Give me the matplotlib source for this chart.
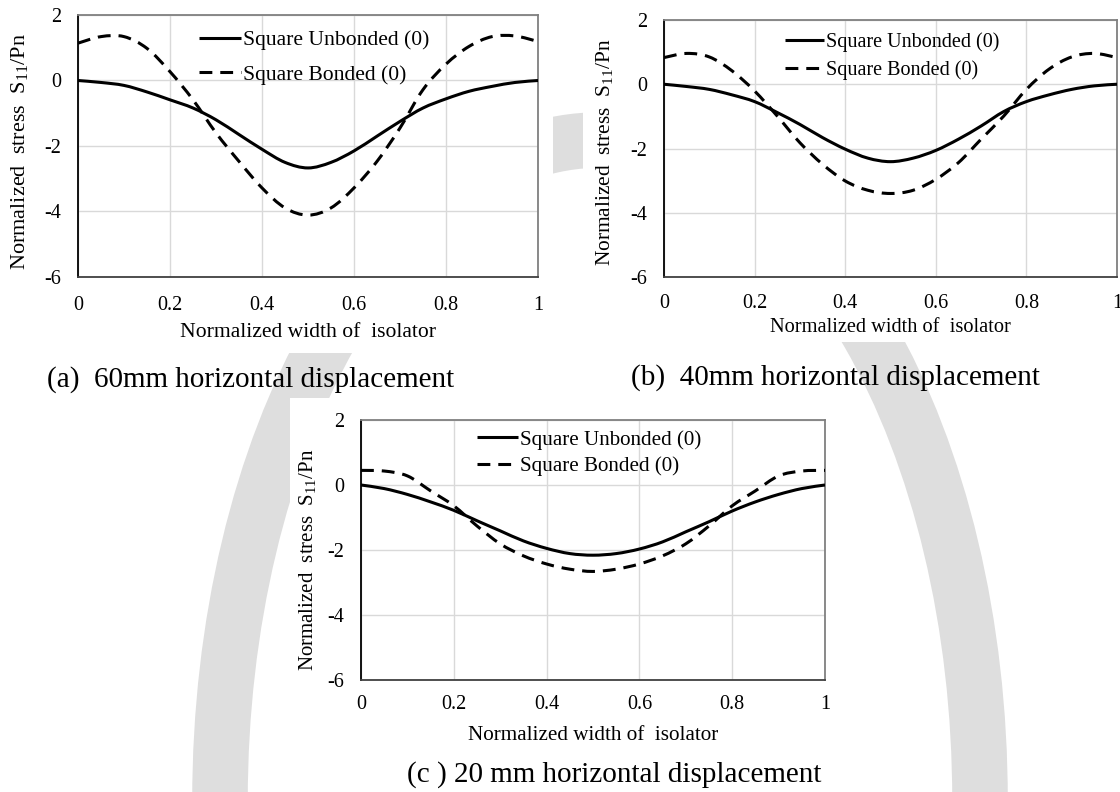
import numpy as np
import matplotlib
matplotlib.use("Agg")
from matplotlib import pyplot as plt
from matplotlib.patches import Rectangle, Ellipse, PathPatch
from matplotlib.path import Path
from matplotlib.lines import Line2D

# --- values (normalized width vs S11/Pn) ---
x_pts = [0, 0.05, 0.1, 0.15, 0.2, 0.25, 0.3, 0.35, 0.4, 0.45, 0.5,
         0.55, 0.6, 0.65, 0.7, 0.75, 0.8, 0.85, 0.9, 0.95, 1.0]

# (a) 60 mm
unb_a = [0.0, -0.06, -0.15, -0.35, -0.59, -0.84, -1.2, -1.65, -2.1, -2.5, -2.67,
         -2.5, -2.15, -1.7, -1.25, -0.84, -0.56, -0.33, -0.18, -0.06, 0.0]
bon_a = [1.14, 1.34, 1.34, 0.98, 0.27, -0.59, -1.6, -2.47, -3.28, -3.89, -4.11,
         -3.89, -3.28, -2.47, -1.45, -0.28, 0.5, 1.04, 1.34, 1.36, 1.19]
# (b) 40 mm
unb_b = [0.0, -0.07, -0.16, -0.33, -0.54, -0.88, -1.25, -1.66, -2.02, -2.3, -2.41,
         -2.3, -2.06, -1.71, -1.3, -0.85, -0.54, -0.33, -0.16, -0.05, 0.0]
bon_b = [0.83, 0.96, 0.85, 0.42, -0.21, -0.99, -1.82, -2.49, -3.01, -3.3, -3.4,
         -3.3, -2.96, -2.44, -1.71, -0.99, -0.16, 0.47, 0.85, 0.96, 0.83]
# (c) 20 mm
unb_c = [0.0, -0.11, -0.29, -0.52, -0.78, -1.1, -1.41, -1.72, -1.95, -2.11, -2.16,
         -2.11, -1.97, -1.75, -1.44, -1.13, -0.8, -0.52, -0.29, -0.11, 0.0]
bon_c = [0.45, 0.43, 0.28, -0.18, -0.64, -1.26, -1.81, -2.18, -2.43, -2.59, -2.66,
         -2.59, -2.43, -2.18, -1.81, -1.26, -0.64, -0.18, 0.28, 0.43, 0.45]

x_ticks = [0, 0.2, 0.4, 0.6, 0.8, 1]
x_ticklabels = ["0", "0.2", "0.4", "0.6", "0.8", "1"]
y_ticks = [-6, -4, -2, 0, 2]

captions = ["(a)  60mm horizontal displacement",
            "(b)  40mm horizontal displacement",
            "(c ) 20 mm horizontal displacement"]
legend_labels = ["Square Unbonded (0)", "Square Bonded (0)"]
xlabel = "Normalized width of  isolator"
ylabel = r"Normalized  stress  S$_{11}$/Pn"

plt.rcParams['font.family'] = ['Liberation Serif', 'DejaVu Serif']
plt.rcParams['mathtext.fontset'] = 'custom'
plt.rcParams['mathtext.rm'] = 'Liberation Serif'
plt.rcParams['axes.unicode_minus'] = False

W, H = 1120, 792
fig = plt.figure(figsize=(W / 100, H / 100), dpi=100)

LW = 2.2
DASH = (4.2, 2.6)


def px_axes(l, t, r, b):
    return fig.add_axes([l / W, 1 - b / H, (r - l) / W, (b - t) / H])


def ftext(x, y, s, **kw):
    fig.text(x / W, 1 - y / H, s, ha="center", va="center", **kw)


def smooth_line(ax, x, y, **kw):
    # excel-style smoothed line: catmull-rom segments drawn as cubic beziers
    p = np.column_stack([x, y])
    n = len(p)
    verts = [p[0]]
    codes = [Path.MOVETO]
    for i in range(n - 1):
        p0, p1 = p[max(i - 1, 0)], p[i]
        p2, p3 = p[i + 1], p[min(i + 2, n - 1)]
        verts += [p1 + (p2 - p0) / 6, p2 - (p3 - p1) / 6, p2]
        codes += [Path.CURVE4] * 3
    ax.add_patch(PathPatch(Path(verts, codes), fill=False, capstyle="butt",
                           joinstyle="round", zorder=3, **kw))


# background: faint watermark ring, white panel boxes
bg = fig.add_axes([0, 0, 1, 1], zorder=-10)
bg.set_xlim(0, W)
bg.set_ylim(H, 0)
bg.axis("off")
bg.add_patch(Ellipse((600, 800), 2 * 380, 2 * 660, fill=False,
                     ec="#dedede", lw=40))
for (l, t, r, b) in [(0, 0, 553, 353), (583, 0, 1120, 342), (290, 398, 839, 752)]:
    bg.add_patch(Rectangle((l, t), r - l, b - t, color="white", lw=0))


def panel(ax, x, unb, bon, leg_xy, leg_fs, leg_sp, xpad):
    smooth_line(ax, x, unb, ec="black", lw=LW)
    smooth_line(ax, x, bon, ec="black", lw=LW, linestyle=(0, DASH))
    ax.set_xlim(0, 1)
    ax.set_ylim(-6, 2)
    ax.set_xticks(x_ticks)
    ax.set_xticklabels(x_ticklabels)
    ax.set_yticks(y_ticks)
    ax.tick_params(length=0, labelsize=14.5)
    ax.tick_params(axis="y", pad=12)
    ax.tick_params(axis="x", pad=xpad)
    ax.grid(True, color="#d9d9d9", lw=1.0)
    ax.set_axisbelow(True)
    ax.spines["left"].set_color("black")
    ax.spines["bottom"].set_color("#404040")
    for s in ["top", "right"]:
        ax.spines[s].set_color("#808080")
    for s in ax.spines.values():
        s.set_linewidth(1.3)
    handles = [Line2D([], [], color="black", lw=LW, solid_capstyle="butt"),
               Line2D([], [], color="black", lw=LW, dashes=DASH)]
    ax.legend(handles, legend_labels, loc="upper left", bbox_to_anchor=leg_xy,
              frameon=False, fontsize=leg_fs, handlelength=1.95,
              handletextpad=0.1, labelspacing=leg_sp, borderpad=0,
              borderaxespad=0)


ax_a = px_axes(78, 15, 538, 277)
panel(ax_a, x_pts, unb_a, bon_a, (0.263, 0.943), 15.6, 0.67, 14)
ax_b = px_axes(664, 20, 1117, 277)
panel(ax_b, x_pts, unb_b, bon_b, (0.267, 0.953), 14.5, 0.42, 12)
ax_c = px_axes(361, 420, 825, 680)
panel(ax_c, x_pts, unb_c, bon_c, (0.25, 0.962), 15.1, 0.31, 11)

# axis titles placed in pixels
ftext(308, 333, xlabel, fontsize=15.6)
ftext(890, 328, xlabel, fontsize=14.7)
ftext(593, 736, xlabel, fontsize=15.2)
ftext(20, 152, ylabel, fontsize=16, rotation=90)
ftext(605, 152, ylabel, fontsize=15.4, rotation=90)
ftext(308, 560, ylabel, fontsize=15, rotation=90)

ftext(251, 380, captions[0], fontsize=21)
ftext(835, 378, captions[1], fontsize=21)
ftext(614, 775, captions[2], fontsize=21)

fig.savefig("out.png", dpi=100)
